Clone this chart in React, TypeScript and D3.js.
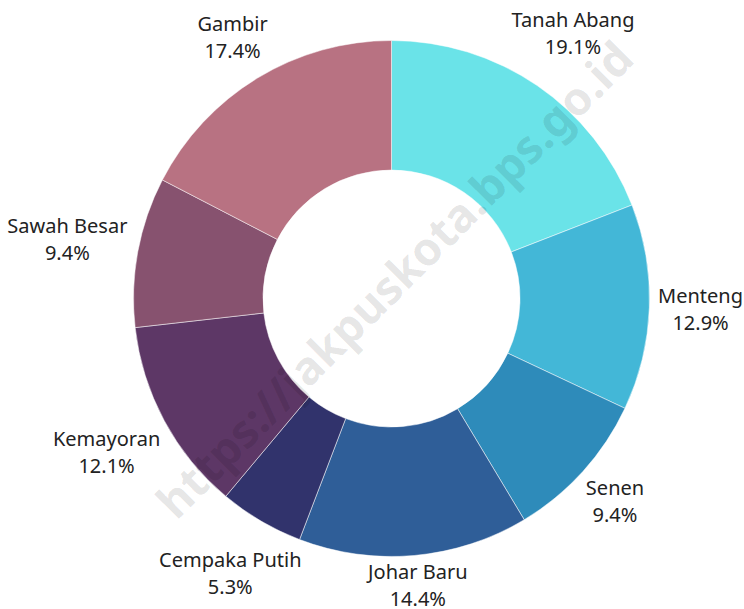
import React, { useEffect, useRef } from 'react';
import * as d3 from 'd3';

const districts = ['Tanah Abang', 'Menteng', 'Senen', 'Johar Baru', 'Cempaka Putih', 'Kemayoran', 'Sawah Besar', 'Gambir'];
const shares = [19.1, 12.9, 9.4, 14.4, 5.3, 12.1, 9.4, 17.4];
const colors = ['#6ae3e8', '#43b7d7', '#2e8bba', '#2f5e98', '#31336c', '#5d3766', '#87526f', '#b87282'];

const App = () => {
  const svgRef = useRef<SVGSVGElement>(null);

  useEffect(() => {
    const width = 744;
    const height = 609;
    const cx = 391.5;
    const cy = 298.5;
    const outer = 258;
    const inner = 128.5;

    const svg = d3.select(svgRef.current);
    svg.selectAll('*').remove();

    const g = svg.append('g').attr('transform', `translate(${cx},${cy})`);

    const pie = d3.pie<number>().sort(null).value(d => d);
    const arcs = pie(shares);
    const arc = d3.arc<d3.PieArcDatum<number>>().innerRadius(inner).outerRadius(outer);

    g.selectAll('path.slice')
      .data(arcs)
      .enter()
      .append('path')
      .attr('class', 'slice')
      .attr('d', arc)
      .attr('fill', (d, i) => colors[i])
      .attr('stroke', '#fff')
      .attr('stroke-width', 0.5);

    // Labels outside the ring
    const labels = g.selectAll('g.label')
      .data(arcs)
      .enter()
      .append('g')
      .attr('class', 'label');

    const text = labels.append('text')
      .attr('text-anchor', 'middle')
      .style('font-family', '"Noto Sans", sans-serif')
      .style('font-size', '20px')
      .attr('fill', '#222');

    text.append('tspan').attr('x', 0).attr('y', 0).text((d, i) => districts[i]);
    text.append('tspan').attr('x', 0).attr('y', 27).text(d => `${d.data.toFixed(1)}%`);

    labels.each(function (d) {
      const node = this as SVGGElement;
      const t = node.querySelector('text') as SVGTextElement;
      const box = t.getBBox();
      const a = (d.startAngle + d.endAngle) / 2;
      const s = Math.sin(a);
      const c = Math.cos(a);
      // a little more room on top and sides than at the bottom
      const extra = c >= 0 ? 5 + 2.5 * c : 5 * (1 - Math.pow(-c, 3));
      const r = outer + 3 + extra + Math.abs(s) * box.width / 2 + Math.abs(c) * box.height * 0.42;
      const bx = box.x + box.width / 2;
      const by = box.y + box.height / 2;
      d3.select(node).attr('transform', `translate(${r * s - bx},${-r * c - by})`);
    });

    // Watermark
    svg.append('text')
      .attr('transform', `translate(395,280) rotate(-45)`)
      .attr('text-anchor', 'middle')
      .attr('dy', '0.35em')
      .style('font-family', '"Noto Sans", sans-serif')
      .style('font-weight', 'bold')
      .style('font-size', '46px')
      .attr('fill', 'rgba(0,0,0,0.11)')
      .text('https://jakpuskota.bps.go.id');

    svg.attr('width', width).attr('height', height);
  }, []);

  return (
    <div style={{ position: 'absolute', left: 0, top: 0, background: '#fff' }}>
      <svg ref={svgRef} style={{ display: 'block' }}></svg>
    </div>
  );
};

export default App;
